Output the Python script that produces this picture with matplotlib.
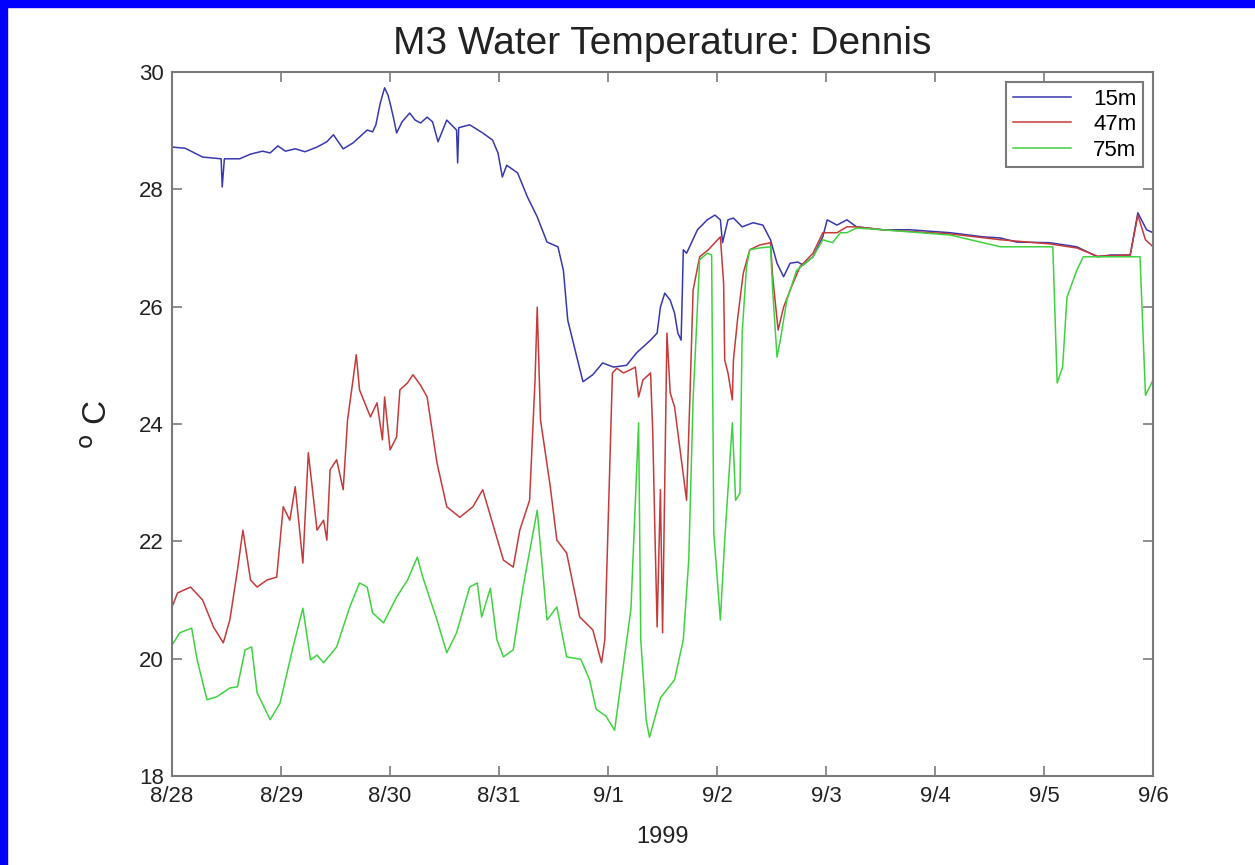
import matplotlib.pyplot as plt
from matplotlib.patches import Rectangle

# M3 mooring, water temperature at three depths (days since 8/28/1999)
days_15m = [0.00, 0.12, 0.28, 0.45, 0.46, 0.48, 0.62, 0.72, 0.83, 0.90, 0.97, 1.04, 1.13, 1.22,
            1.33, 1.42, 1.48, 1.57, 1.66, 1.79, 1.84, 1.87, 1.91, 1.95, 1.98, 2.00, 2.03, 2.06,
            2.11, 2.18, 2.23, 2.28, 2.34, 2.39, 2.44, 2.52, 2.61, 2.62, 2.63, 2.73, 2.85, 2.94,
            2.99, 3.03, 3.07, 3.17, 3.26, 3.35, 3.44, 3.54, 3.59, 3.63, 3.72, 3.77, 3.86, 3.95,
            4.05, 4.17, 4.26, 4.39, 4.45, 4.48, 4.52, 4.57, 4.61, 4.64, 4.67, 4.68, 4.69, 4.72,
            4.82, 4.91, 4.98, 5.03, 5.05, 5.10, 5.15, 5.23, 5.33, 5.42, 5.49, 5.55, 5.61, 5.67,
            5.74, 5.79, 5.88, 5.97, 6.01, 6.10, 6.19, 6.28, 6.38, 6.52, 6.77, 7.14, 7.44, 7.60,
            7.75, 8.05, 8.30, 8.49, 8.61, 8.79, 8.86, 8.94, 9.00]
temp_15m = [28.72, 28.70, 28.55, 28.52, 28.04, 28.52, 28.52, 28.60, 28.65, 28.62, 28.74, 28.65,
            28.69, 28.64, 28.72, 28.81, 28.93, 28.69, 28.79, 29.01, 28.98, 29.10, 29.47, 29.73,
            29.61, 29.47, 29.23, 28.96, 29.15, 29.30, 29.18, 29.13, 29.23, 29.15, 28.81, 29.18,
            29.01, 28.45, 29.05, 29.10, 28.96, 28.84, 28.62, 28.21, 28.41, 28.28, 27.87, 27.53,
            27.10, 27.02, 26.62, 25.77, 25.09, 24.72, 24.84, 25.04, 24.97, 25.00, 25.21, 25.43,
            25.55, 25.99, 26.23, 26.11, 25.89, 25.55, 25.43, 26.16, 26.97, 26.91, 27.31, 27.48,
            27.56, 27.48, 27.09, 27.48, 27.51, 27.36, 27.43, 27.39, 27.14, 26.74, 26.51, 26.74,
            26.76, 26.71, 26.85, 27.19, 27.48, 27.39, 27.48, 27.36, 27.34, 27.31, 27.31, 27.26,
            27.19, 27.17, 27.10, 27.09, 27.02, 26.85, 26.88, 26.88, 27.60, 27.31, 27.26]

days_47m = [0.00, 0.05, 0.17, 0.28, 0.38, 0.47, 0.53, 0.60, 0.65, 0.72, 0.78, 0.87, 0.96, 1.02,
            1.08, 1.13, 1.20, 1.25, 1.33, 1.39, 1.42, 1.45, 1.51, 1.57, 1.61, 1.66, 1.69, 1.72,
            1.82, 1.88, 1.93, 1.95, 2.00, 2.06, 2.09, 2.16, 2.21, 2.28, 2.34, 2.43, 2.52, 2.64,
            2.76, 2.85, 2.94, 3.04, 3.13, 3.19, 3.28, 3.33, 3.35, 3.38, 3.47, 3.53, 3.62, 3.74,
            3.86, 3.94, 3.97, 4.04, 4.08, 4.14, 4.20, 4.25, 4.28, 4.32, 4.39, 4.41, 4.43, 4.45,
            4.48, 4.50, 4.54, 4.57, 4.61, 4.72, 4.75, 4.78, 4.84, 4.92, 4.98, 5.03, 5.06, 5.07,
            5.10, 5.14, 5.15, 5.19, 5.24, 5.30, 5.39, 5.49, 5.51, 5.56, 5.61, 5.67, 5.76, 5.88,
            5.97, 6.10, 6.19, 6.28, 6.52, 7.14, 7.60, 8.05, 8.30, 8.49, 8.79, 8.86, 8.93, 9.00]
temp_47m = [20.88, 21.12, 21.22, 21.00, 20.54, 20.27, 20.66, 21.51, 22.19, 21.34, 21.22, 21.34,
            21.39, 22.59, 22.36, 22.93, 21.63, 23.51, 22.19, 22.36, 22.02, 23.22, 23.39, 22.88,
            24.07, 24.75, 25.18, 24.58, 24.12, 24.36, 23.73, 24.46, 23.56, 23.78, 24.58, 24.70,
            24.84, 24.66, 24.46, 23.34, 22.59, 22.41, 22.59, 22.88, 22.31, 21.68, 21.56, 22.19,
            22.70, 24.75, 25.99, 24.07, 22.93, 22.02, 21.80, 20.71, 20.49, 19.93, 20.32, 24.87,
            24.95, 24.87, 24.92, 24.97, 24.46, 24.75, 24.87, 23.85, 22.14, 20.54, 22.88, 20.44,
            25.55, 24.53, 24.29, 22.70, 24.41, 26.28, 26.85, 26.97, 27.09, 27.19, 26.40, 25.09,
            24.87, 24.41, 25.09, 25.82, 26.57, 26.97, 27.05, 27.09, 26.51, 25.60, 25.99, 26.28,
            26.68, 26.91, 27.26, 27.26, 27.36, 27.36, 27.31, 27.24, 27.14, 27.07, 27.00, 26.86,
            26.88, 27.56, 27.14, 27.02]

days_75m = [0.00, 0.07, 0.18, 0.23, 0.32, 0.41, 0.53, 0.60, 0.67, 0.73, 0.78, 0.90, 0.99, 1.11,
            1.20, 1.27, 1.33, 1.39, 1.51, 1.63, 1.72, 1.79, 1.84, 1.94, 2.06, 2.16, 2.25, 2.30,
            2.43, 2.52, 2.61, 2.73, 2.80, 2.84, 2.92, 2.98, 3.04, 3.13, 3.22, 3.35, 3.44, 3.53,
            3.62, 3.75, 3.83, 3.89, 3.98, 4.06, 4.21, 4.28, 4.30, 4.35, 4.38, 4.48, 4.61, 4.69,
            4.74, 4.78, 4.84, 4.91, 4.95, 4.97, 5.03, 5.07, 5.14, 5.17, 5.21, 5.23, 5.27, 5.30,
            5.39, 5.49, 5.51, 5.55, 5.58, 5.64, 5.73, 5.88, 5.97, 6.06, 6.13, 6.19, 6.28, 6.52,
            7.14, 7.60, 7.75, 8.08, 8.12, 8.17, 8.21, 8.30, 8.36, 8.49, 8.88, 8.93, 9.00]
temp_75m = [20.23, 20.44, 20.52, 19.98, 19.30, 19.35, 19.50, 19.52, 20.15, 20.20, 19.42, 18.96,
            19.24, 20.20, 20.86, 19.98, 20.06, 19.93, 20.20, 20.88, 21.29, 21.22, 20.78, 20.61,
            21.05, 21.34, 21.73, 21.39, 20.66, 20.10, 20.44, 21.22, 21.29, 20.71, 21.20, 20.32,
            20.03, 20.15, 21.22, 22.53, 20.66, 20.88, 20.03, 19.99, 19.64, 19.14, 19.02, 18.78,
            20.85, 24.02, 20.32, 18.95, 18.66, 19.33, 19.64, 20.32, 21.68, 24.41, 26.80, 26.91,
            26.88, 22.14, 20.66, 22.02, 24.02, 22.70, 22.82, 25.55, 26.68, 26.97, 27.00, 27.02,
            26.28, 25.14, 25.43, 26.11, 26.62, 26.85, 27.14, 27.09, 27.26, 27.26, 27.34, 27.31,
            27.22, 27.02, 27.02, 27.02, 24.70, 24.97, 26.16, 26.62, 26.85, 26.85, 26.85, 24.49,
            24.75]

depth_labels = ['15m', '47m', '75m']
day_ticks = ['8/28', '8/29', '8/30', '8/31', '9/1', '9/2', '9/3', '9/4', '9/5', '9/6']
temp_ticks = [18, 20, 22, 24, 26, 28, 30]

plt.rcParams['font.family'] = ['Liberation Sans', 'DejaVu Sans']

fig = plt.figure(figsize=(12.55, 8.65), dpi=100, facecolor='white')
# blue frame along the top and left edges
fig.patches.append(Rectangle((0, 0), 7 / 1255, 1, transform=fig.transFigure,
                             color='#0000ff', zorder=0))
fig.patches.append(Rectangle((0, 1 - 7 / 865), 1, 7 / 865, transform=fig.transFigure,
                             color='#0000ff', zorder=0))

ax = fig.add_axes([0.1371, 0.1029, 0.7817, 0.8139])
ax.plot(days_15m, temp_15m, color='#3838b0', lw=1.1, label=depth_labels[0])
ax.plot(days_47m, temp_47m, color='#c53a3a', lw=1.1, label=depth_labels[1])
ax.plot(days_75m, temp_75m, color='#3fd23f', lw=1.1, label=depth_labels[2])

ax.set_xlim(0, 9)
ax.set_ylim(18, 30)
ax.set_xticks(range(len(day_ticks)))
ax.set_xticklabels(day_ticks)
ax.set_yticks(temp_ticks)

grey = '#7a7a7a'
for sp in ax.spines.values():
    sp.set_color(grey)
    sp.set_linewidth(1.5)
ax.tick_params(direction='in', length=7, width=1.2, color=grey, labelsize=16,
               labelcolor='#222222', top=True, right=True)
ax.tick_params(axis='x', pad=7)
ax.tick_params(axis='y', pad=6)

ax.set_title('M3 Water Temperature: Dennis', fontsize=28, pad=13, color='#222222')
ax.set_xlabel('1999', fontsize=17, labelpad=14, color='#222222')
ax.set_ylabel('$^{\\rm o}$ C', fontsize=24, labelpad=18, color='#222222')

# legend box sits about 10 px inside the top right corner
leg = ax.legend(loc='upper right', fontsize=16, handlelength=2.6, handletextpad=1.0,
                borderpad=0.3, labelspacing=0.2, borderaxespad=0, fancybox=False,
                framealpha=1, bbox_to_anchor=(1 - 10 / 981, 1 - 10 / 704))
leg.get_frame().set_edgecolor(grey)
leg.get_frame().set_linewidth(1.5)

fig.savefig('out.png', dpi=100, facecolor=fig.get_facecolor())
